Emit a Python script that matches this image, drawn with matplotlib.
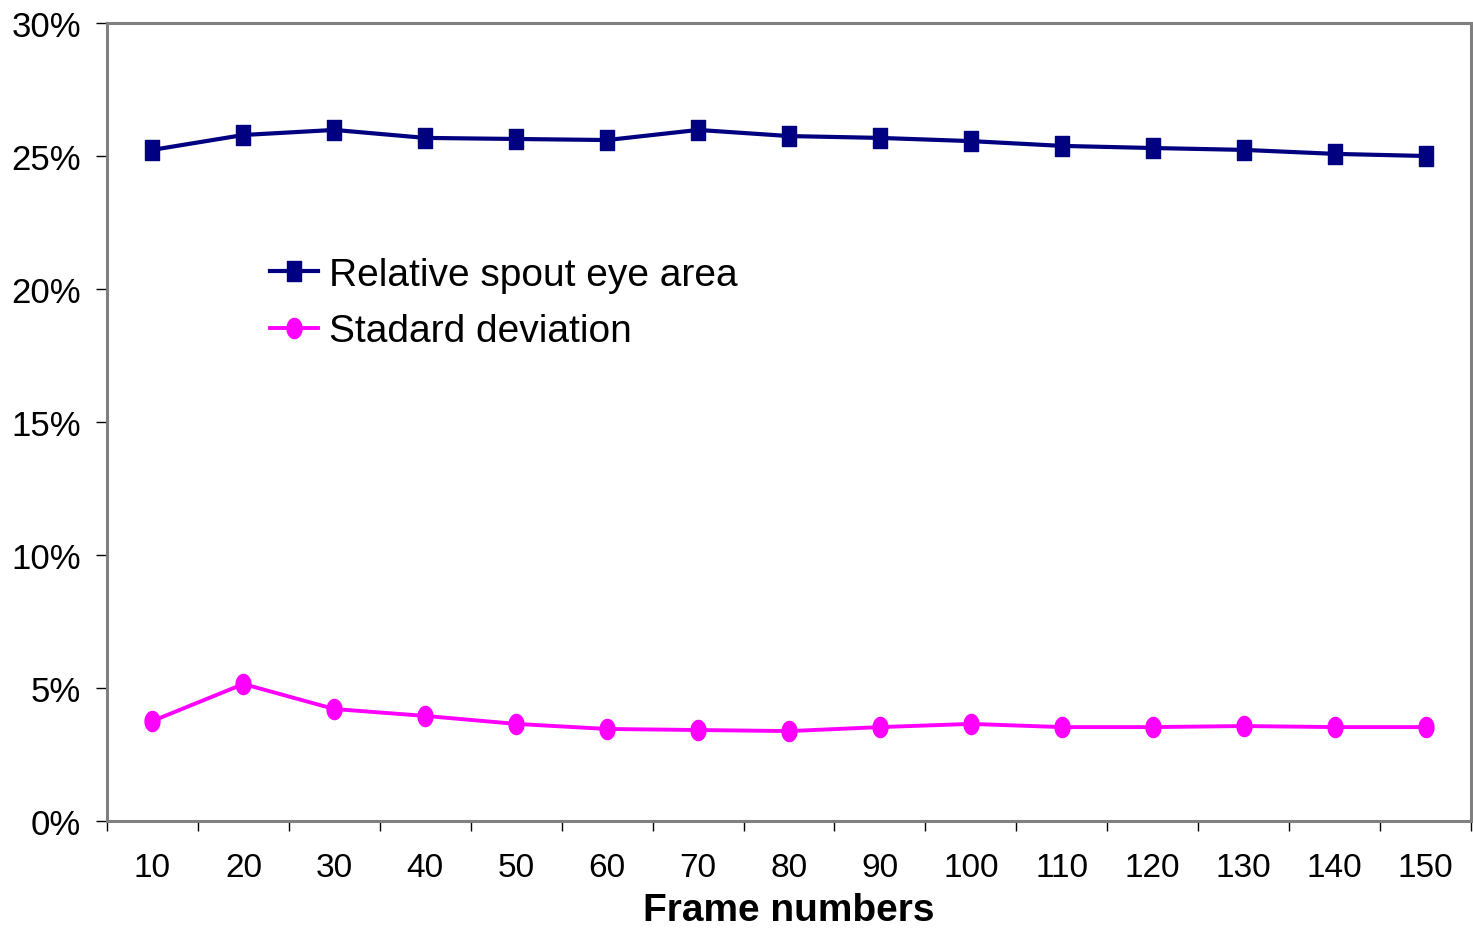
import numpy as np
import matplotlib.pyplot as plt
from matplotlib.path import Path
from matplotlib.ticker import PercentFormatter, FixedLocator, NullFormatter

plt.rcParams['font.family'] = ['Liberation Sans', 'DejaVu Sans']

# data
frames = ['10', '20', '30', '40', '50', '60', '70', '80', '90', '100',
          '110', '120', '130', '140', '150']
spout_area = [25.23, 25.79, 25.98, 25.68, 25.64, 25.60, 25.98, 25.75,
              25.68, 25.56, 25.38, 25.30, 25.23, 25.08, 25.00]
std_dev = [3.76, 5.15, 4.21, 3.95, 3.65, 3.46, 3.42, 3.38,
           3.53, 3.65, 3.53, 3.53, 3.57, 3.53, 3.53]

# markers are a bit taller than wide in the original
t = np.linspace(0, 2 * np.pi, 60)
ellipse = Path(np.column_stack([0.74 * np.cos(t), np.sin(t)]), closed=True)
rect = Path([(-0.74, -1), (0.74, -1), (0.74, 1), (-0.74, 1), (-0.74, -1)], closed=True)

fig = plt.figure(figsize=(14.73, 9.29), dpi=100)
ax = fig.add_axes([107 / 1473, 107 / 929, 1364 / 1473, 798 / 929])

x = np.arange(1, len(frames) + 1)
ax.plot(x, spout_area, color='#000080', lw=3.0, marker=rect, markersize=14,
        label='Relative spout eye area')
ax.plot(x, std_dev, color='#FF00FF', lw=2.8, marker=ellipse, markersize=14.5,
        label='Stadard deviation')

ax.set_xlim(0.5, len(frames) + 0.5)
ax.set_ylim(0, 30)
ax.yaxis.set_major_locator(FixedLocator([0, 5, 10, 15, 20, 25, 30]))
ax.yaxis.set_major_formatter(PercentFormatter(decimals=0))

# ticks between categories, labels centred on categories
ax.xaxis.set_major_locator(FixedLocator(np.arange(0.5, len(frames) + 1, 1)))
ax.xaxis.set_major_formatter(NullFormatter())
ax.xaxis.set_minor_locator(FixedLocator(x))
ax.set_xticklabels(frames, minor=True)
ax.tick_params(axis='x', which='minor', length=0, pad=22.5, labelsize=24)
ax.tick_params(axis='x', which='major', length=7.5, width=1, color='black', direction='out')
ax.tick_params(axis='y', length=8, width=1, color='black', pad=10.5, labelsize=25)

for s in ax.spines.values():
    s.set_color('#808080')
    s.set_linewidth(2.2)

ax.set_xlabel('Frame numbers', fontsize=28, fontweight='bold', labelpad=6)

ax.legend(loc='upper left', bbox_to_anchor=((270 - 107) / 1364, (822 - 258) / 798),
          frameon=False, fontsize=28, borderpad=0, borderaxespad=0,
          handlelength=1.23, handletextpad=0.28, labelspacing=0.52)

fig.savefig('out.png', dpi=100)
